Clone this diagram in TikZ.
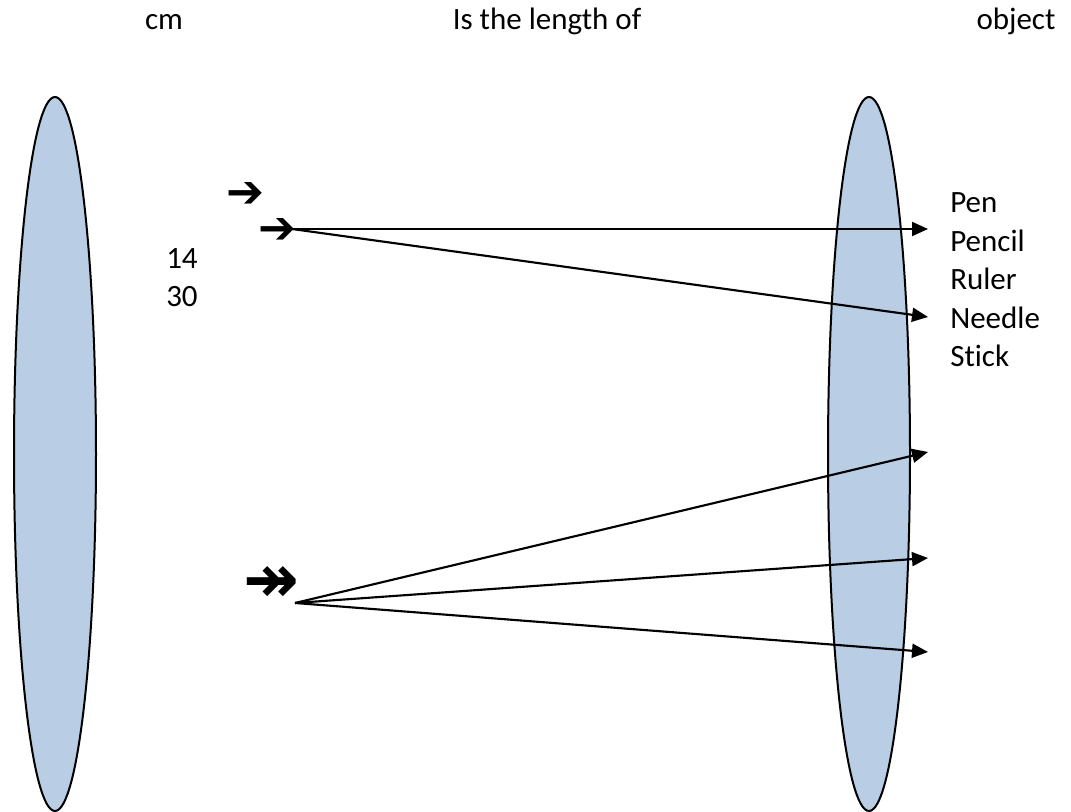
\documentclass[tikz,border=0pt]{standalone}
\usepackage{fontspec}
\setmainfont{Carlito}[Ligatures=NoCommon]
\newfontfamily\symfont{DejaVu Sans Bold}
\usetikzlibrary{arrows.meta,positioning,shapes.geometric}
\definecolor{setblue}{HTML}{B9CDE5}

\begin{document}
\begin{tikzpicture}[x=0.75pt,y=-0.75pt,>={Triangle[length=12pt,width=10.5pt]},font=\fontsize{23.25}{28.5}\selectfont]
  \tikzstyle{set}=[ellipse,draw,line width=1.5pt,fill=setblue,minimum width=61.5pt,minimum height=535.5pt,inner sep=0pt]
  \tikzstyle{word}=[anchor=base west,inner sep=0pt]
  \tikzstyle{head}=[anchor=base,inner sep=0pt]
  \tikzstyle{link}=[line width=1.6pt,->]
  \tikzstyle{glyph}=[inner sep=0pt,font=\symfont\fontsize{34}{34}\selectfont]
  \useasboundingbox (0,0) rectangle (1071,812);
  % headings
  \node[head] (cm) at (164,30) {cm};
  \node[head] (rel) at (547,30) {Is the length of};
  \node[head] (obj) at (1016,30) {object};
  % the two sets
  \node[set] (left) at (55,454) {};
  \node[set] (right) at (869,454) {};
  % values
  \node[word] (v14) at (166,269) {14};
  \node[word] (v30) at (166,307) {30};
  % objects
  \node[word] (pen) at (950,213) {Pen};
  \node[word] (pencil) at (950,252) {Pencil};
  \node[word] (ruler) at (950,290) {Ruler};
  \node[word] (needle) at (950,329) {Needle};
  \node[word] (stick) at (950,367) {Stick};
  % arrow marks
  \node[glyph] (markA) at (245,195) {➔};
  \node[glyph] (markB) at (277,231) {➔};
  \node[glyph,font=\symfont\fontsize{50}{50}\selectfont] (markC) at (271,585) {↠};
  \coordinate (fromA) at (292,229);
  \coordinate (fromB) at (295,603);
  \coordinate (toA) at (928,229);
  \coordinate (toB) at (928,317);
  \coordinate (toC) at (928,452);
  \coordinate (toD) at (928,558);
  \coordinate (toE) at (928,652);
  \draw[link] (fromA) -- (toA);
  \draw[link] (fromA) -- (toB);
  \draw[link] (fromB) -- (toC);
  \draw[link] (fromB) -- (toD);
  \draw[link] (fromB) -- (toE);
\end{tikzpicture}
\end{document}
